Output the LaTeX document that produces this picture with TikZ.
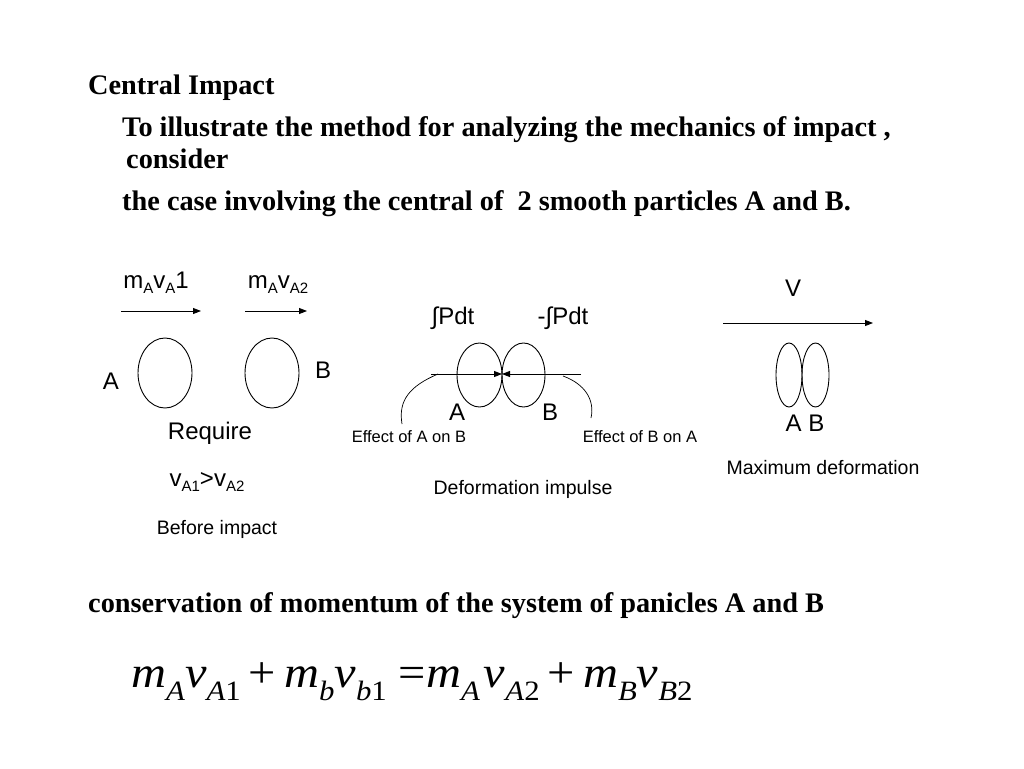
\documentclass[tikz,border=0pt]{standalone}
\usepackage{fontspec}
\setmainfont{Liberation Serif}
\setsansfont{Liberation Sans}
\newfontfamily\eqfont[FakeStretch=1.1]{Liberation Serif}
\usetikzlibrary{arrows.meta,positioning,shapes.geometric}

% subscripts for the labels and for the equation
\newcommand{\lsub}[1]{\raisebox{-5.5pt}{\fontsize{15}{15}\selectfont #1}}
\newcommand{\esub}[1]{\raisebox{-13pt}{\fontsize{28}{28}\selectfont #1}}
\newcommand{\eplus}{\hspace{8pt}+\hspace{8pt}}

\begin{document}
\begin{tikzpicture}[x=1pt,y=-1pt,
    head/.style={anchor=base west, inner sep=0, font=\rmfamily\bfseries\fontsize{28.3}{32}\selectfont},
    lbl/.style={inner sep=0, font=\sffamily\fontsize{24}{28}\selectfont},
    captxt/.style={inner sep=0, font=\sffamily\fontsize{19.5}{22}\selectfont},
    note/.style={inner sep=0, font=\sffamily\fontsize{16.5}{20}\selectfont},
    ball/.style={draw, ellipse, inner sep=0, line width=0.9pt},
    push/.style={-{Triangle[length=8pt,width=6pt]}, line width=0.9pt}]
    \useasboundingbox[fill=white] (0,0) rectangle (1024,768);

    % Heading text
    \node[head] (title) at (88,94) {Central Impact};
    \node[head] (line1) at (122,136) {To illustrate the method for analyzing the mechanics of impact ,};
    \node[head] (line2) at (126,168) {consider};
    \node[head] (line3) at (122,210) {the case involving the central of\ \ 2 smooth particles A and B.};

    % Before impact
    \node[lbl, anchor=base] (pA) at (156,288) {m\lsub{A}v\lsub{A}1};
    \node[lbl, anchor=base] (pB) at (278,288) {m\lsub{A}v\lsub{A2}};
    \coordinate (a1) at (121,311);
    \coordinate (a2) at (201,311);
    \coordinate (b1) at (245,311);
    \coordinate (b2) at (307,311);
    \draw[push] (a1) -- (a2);
    \draw[push] (b1) -- (b2);
    \node[ball, minimum width=54, minimum height=70] (ballA) at (165,373) {};
    \node[ball, minimum width=54, minimum height=70] (ballB) at (272,373) {};
    \node[lbl] (nameA) at (111,381) {A};
    \node[lbl] (nameB) at (323,370) {B};
    \node[lbl] (req) at (210,433) {Require};
    \node[lbl, anchor=base] (cond) at (207,486) {v\lsub{A1}>v\lsub{A2}};
    \node[captxt] (before) at (217,529) {Before impact};

    % Deformation impulse
    \node[lbl] (intP) at (453,318) {∫Pdt};
    \node[lbl] (intN) at (563,318) {-∫Pdt};
    \node[ball, minimum width=45, minimum height=64] (defA) at (479.5,375) {};
    \node[ball, minimum width=43, minimum height=64] (defB) at (523.5,375) {};
    \coordinate (touch) at (502,374);
    \coordinate (l1) at (431,374);
    \coordinate (r1) at (581,374);
    \draw[push] (l1) -- (touch);
    \draw[push] (r1) -- (touch);
    \coordinate (lk) at (438,374);
    \coordinate (rk) at (563,376);
    \node[note] (effAB) at (409,437) {Effect of A on B};
    \node[note] (effBA) at (640,437) {Effect of B on A};
    \draw[line width=0.7pt] (lk) .. controls (410,386) and (398,400) .. (402,424);
    \draw[line width=0.7pt] (rk) .. controls (585,384) and (595,400) .. (591,418);
    \node[lbl] (defNA) at (457,412) {A};
    \node[lbl] (defNB) at (550,412) {B};
    \node[captxt] (impulse) at (523,489) {Deformation impulse};

    % Maximum deformation
    \node[lbl] (vel) at (793,288) {V};
    \coordinate (v1) at (723,323);
    \coordinate (v2) at (873,323);
    \draw[push] (v1) -- (v2);
    \node[ball, minimum width=26, minimum height=64] (maxA) at (789,375) {};
    \node[ball, minimum width=27, minimum height=64] (maxB) at (815.5,375) {};
    \node[lbl] (maxAB) at (805,423) {A B};
    \node[captxt] (maxdef) at (823,468) {Maximum deformation};

    % Momentum
    \node[head] (cons) at (88,612) {conservation of momentum of the system of panicles A and B};
    \node[anchor=base west, inner sep=0, font=\eqfont\fontsize{44}{48}\selectfont] (eq) at (131,687)
      {\textit{m}\esub{\textit{A}}\textit{v}\esub{\textit{A}1}\eplus\textit{m}\esub{\textit{b}}\textit{v}\esub{\textit{b}1}\hspace{12pt}=\textit{m}\esub{\textit{A}}\hspace{4pt}\textit{v}\esub{\textit{A}2}\eplus\textit{m}\esub{\textit{B}}\textit{v}\esub{\textit{B}2}};
\end{tikzpicture}
\end{document}
